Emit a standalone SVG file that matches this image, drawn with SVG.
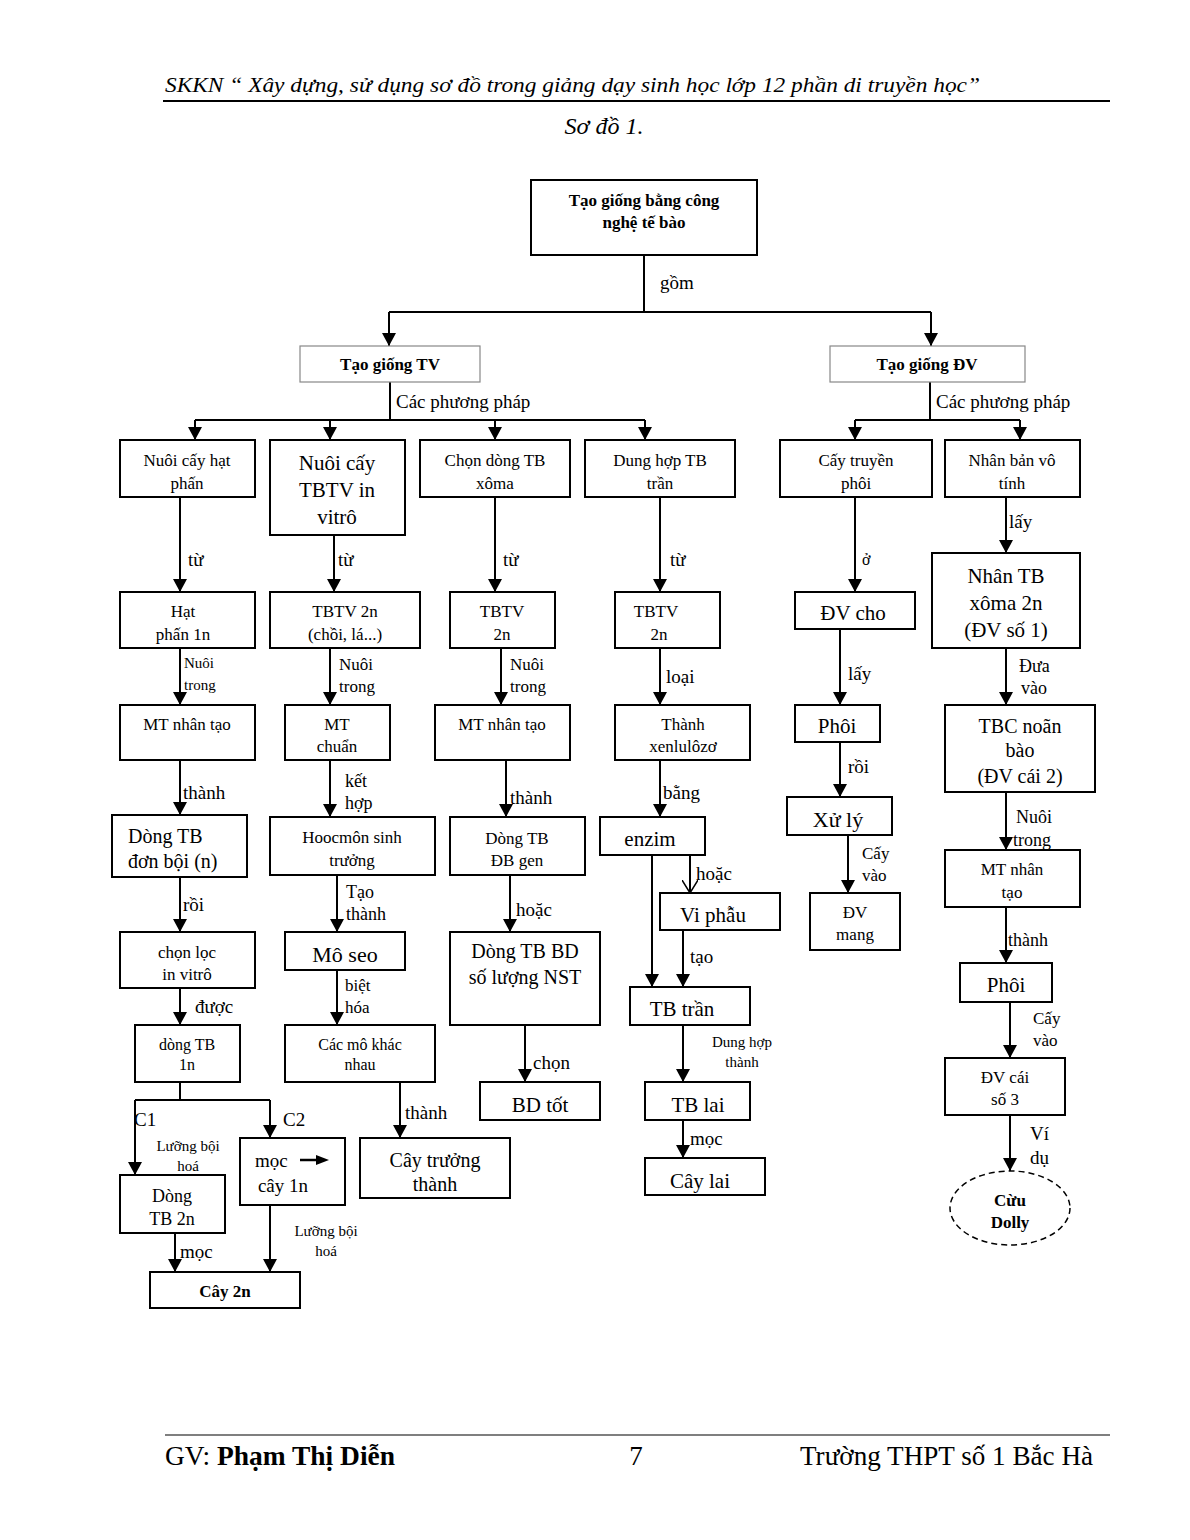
<svg xmlns="http://www.w3.org/2000/svg" width="1190" height="1540" viewBox="0 0 1190 1540">
<defs>
<marker id="a" markerWidth="13" markerHeight="14" refX="13" refY="7" orient="auto" markerUnits="userSpaceOnUse"><path d="M0,0 L13,7 L0,14 z" fill="#000"/></marker>
<marker id="o" markerWidth="14" markerHeight="16" refX="13" refY="8" orient="auto" markerUnits="userSpaceOnUse"><path d="M0,0 L13,8 L0,16" fill="none" stroke="#000" stroke-width="1.5"/></marker>
<style>
text{font-family:"Liberation Serif","Times New Roman",serif;fill:#000}
.b{fill:#fff;stroke:#000;stroke-width:2}
.g{fill:#fff;stroke:#888;stroke-width:1.2}
.c{text-anchor:middle}
.s15{font-size:15px}.s16{font-size:16px}.s17{font-size:17px}.s18{font-size:18px}.s19{font-size:19px}.s20{font-size:20px}.s21{font-size:21px}.s22{font-size:22px}
.bd{font-weight:bold}
.e path,.e line{stroke:#000;stroke-width:2;fill:none}
.ar{marker-end:url(#a)}
</style>
</defs>
<rect width="1190" height="1540" fill="#fff"/>
<g id="header">
<text x="165" y="92" font-size="22" font-style="italic" textLength="815" lengthAdjust="spacingAndGlyphs">SKKN “ Xây dựng, sử dụng sơ đồ trong giảng dạy sinh học lớp 12 phần di truyền học”</text>
<line x1="163" y1="101" x2="1110" y2="101" stroke="#000" stroke-width="2"/>
<text x="604" y="134" font-size="24" font-style="italic" class="c">Sơ đồ 1.</text>
</g>
<g id="connectors" class="e">
<path d="M644,255 V312 M389,312 H931"/>
<path class="ar" d="M389,312 V346"/><path class="ar" d="M931,312 V346"/>
<path d="M390,382 V420 M195,420 H645"/>
<path class="ar" d="M195,420 V440"/><path class="ar" d="M330,420 V440"/><path class="ar" d="M495,420 V440"/><path class="ar" d="M645,420 V440"/>
<path d="M930,382 V420 M855,420 H1020"/>
<path class="ar" d="M855,420 V440"/><path class="ar" d="M1020,420 V440"/>
<path class="ar" d="M180,497 V592"/><path class="ar" d="M334,535 V592"/><path class="ar" d="M495,497 V592"/><path class="ar" d="M660,497 V592"/><path class="ar" d="M855,497 V592"/><path class="ar" d="M1006,497 V553"/>
<path class="ar" d="M180,648 V705"/><path class="ar" d="M330,648 V705"/><path class="ar" d="M501,648 V705"/><path class="ar" d="M660,648 V705"/><path class="ar" d="M840,628 V705"/><path class="ar" d="M1006,648 V705"/>
<path class="ar" d="M180,760 V815"/><path class="ar" d="M330,760 V817"/><path class="ar" d="M506,760 V817"/><path class="ar" d="M660,760 V817"/><path class="ar" d="M840,742 V797"/><path class="ar" d="M848,835 V893"/><path class="ar" d="M1006,792 V850"/><path class="ar" d="M1006,907 V963"/><path class="ar" d="M1010,1002 V1058"/><path class="ar" d="M1010,1115 V1171"/>
<path class="ar" d="M180,877 V932"/><path class="ar" d="M337,875 V932"/><path class="ar" d="M510,875 V932"/>
<path class="ar" d="M652,855 V987"/><path d="M690,855 V893" marker-end="url(#o)"/><path class="ar" d="M683,930 V987"/>
<path class="ar" d="M180,988 V1025"/><path class="ar" d="M337,970 V1025"/><path class="ar" d="M525,1025 V1082"/><path class="ar" d="M683,1025 V1082"/>
<path d="M180,1082 V1100 M135,1100 H270"/><path class="ar" d="M135,1100 V1175"/><path class="ar" d="M270,1100 V1138"/>
<path class="ar" d="M270,1205 V1272"/><path class="ar" d="M175,1233 V1272"/><path class="ar" d="M400,1082 V1138"/><path class="ar" d="M683,1120 V1158"/>
</g>
<g id="labels">
<text x="660" y="289" class="s19">gồm</text>
<text x="396" y="408" class="s19">Các phương pháp</text>
<text x="936" y="408" class="s19">Các phương pháp</text>
<text x="188" y="566" class="s19">từ</text><text x="338" y="566" class="s19">từ</text><text x="503" y="566" class="s19">từ</text><text x="670" y="566" class="s19">từ</text>
<text x="862" y="565" class="s16">ở</text><text x="1009" y="528" class="s19">lấy</text>
<text x="184" y="668" class="s15">Nuôi</text><text x="184" y="690" class="s15">trong</text>
<text x="339" y="670" class="s17">Nuôi</text><text x="339" y="692" class="s17">trong</text>
<text x="510" y="670" class="s17">Nuôi</text><text x="510" y="692" class="s17">trong</text>
<text x="666" y="683" class="s19">loại</text><text x="848" y="680" class="s19">lấy</text>
<text x="1019" y="672" class="s18">Đưa</text><text x="1021" y="694" class="s18">vào</text>
<text x="183" y="799" class="s19">thành</text>
<text x="345" y="787" class="s18">kết</text><text x="345" y="809" class="s18">hợp</text>
<text x="510" y="804" class="s19">thành</text><text x="663" y="799" class="s19">bằng</text>
<text x="848" y="773" class="s19">rồi</text>
<text x="862" y="859" class="s17">Cấy</text><text x="862" y="881" class="s17">vào</text>
<text x="1016" y="823" class="s18">Nuôi</text><text x="1013" y="846" class="s18">trong</text>
<text x="1008" y="946" class="s18">thành</text>
<text x="1033" y="1024" class="s17">Cấy</text><text x="1033" y="1046" class="s17">vào</text>
<text x="1030" y="1140" class="s19">Ví</text><text x="1030" y="1164" class="s19">dụ</text>
<text x="183" y="911" class="s19">rồi</text>
<text x="346" y="898" class="s18">Tạo</text><text x="346" y="920" class="s18">thành</text>
<text x="516" y="916" class="s19">hoặc</text><text x="696" y="880" class="s19">hoặc</text>
<text x="690" y="963" class="s19">tạo</text>
<text x="195" y="1013" class="s19">được</text>
<text x="345" y="991" class="s17">biệt</text><text x="345" y="1013" class="s17">hóa</text>
<text x="533" y="1069" class="s19">chọn</text>
<text x="742" y="1047" class="s15 c">Dung hợp</text><text x="742" y="1067" class="s15 c">thành</text>
<text x="134" y="1126" class="s19">C1</text><text x="283" y="1126" class="s19">C2</text>
<text x="188" y="1151" class="s15 c">Lưỡng bội</text><text x="188" y="1171" class="s15 c">hoá</text>
<text x="326" y="1236" class="s15 c">Lưỡng bội</text><text x="326" y="1256" class="s15 c">hoá</text>
<text x="180" y="1258" class="s19">mọc</text>
<text x="405" y="1119" class="s19">thành</text>
<text x="690" y="1145" class="s19">mọc</text>
</g>
<g id="n-top"><rect class="b" x="531" y="180" width="226" height="75"/><text class="c s17 bd" x="644" y="206">Tạo giống bằng công</text><text class="c s17 bd" x="644" y="228">nghệ tế bào</text></g>
<g id="n-tv"><rect class="g" x="300" y="346" width="180" height="36"/><text class="c s17 bd" x="390" y="370">Tạo giống TV</text></g>
<g id="n-dv"><rect class="g" x="830" y="346" width="195" height="36"/><text class="c s17 bd" x="927" y="370">Tạo giống ĐV</text></g>
<g id="n-r1a"><rect class="b" x="120" y="440" width="135" height="57"/><text class="c s17" x="187" y="466">Nuôi cấy hạt</text><text class="c s17" x="187" y="489">phấn</text></g>
<g id="n-r1b"><rect class="b" x="270" y="440" width="135" height="95"/><text class="c s21" x="337" y="470">Nuôi cấy</text><text class="c s21" x="337" y="497">TBTV in</text><text class="c s21" x="337" y="524">vitrô</text></g>
<g id="n-r1c"><rect class="b" x="420" y="440" width="150" height="57"/><text class="c s17" x="495" y="466">Chọn dòng TB</text><text class="c s17" x="495" y="489">xôma</text></g>
<g id="n-r1d"><rect class="b" x="585" y="440" width="150" height="57"/><text class="c s17" x="660" y="466">Dung hợp TB</text><text class="c s17" x="660" y="489">trần</text></g>
<g id="n-r1e"><rect class="b" x="780" y="440" width="152" height="57"/><text class="c s17" x="856" y="466">Cấy truyền</text><text class="c s17" x="856" y="489">phôi</text></g>
<g id="n-r1f"><rect class="b" x="945" y="440" width="135" height="57"/><text class="c s17" x="1012" y="466">Nhân bản vô</text><text class="c s17" x="1012" y="489">tính</text></g>
<g id="n-r2a"><rect class="b" x="120" y="592" width="135" height="56"/><text class="c s17" x="183" y="617">Hạt</text><text class="c s17" x="183" y="640">phấn 1n</text></g>
<g id="n-r2b"><rect class="b" x="270" y="592" width="150" height="56"/><text class="c s17" x="345" y="617">TBTV 2n</text><text class="c s17" x="345" y="640">(chồi, lá...)</text></g>
<g id="n-r2c"><rect class="b" x="450" y="592" width="105" height="56"/><text class="c s17" x="502" y="617">TBTV</text><text class="c s17" x="502" y="640">2n</text></g>
<g id="n-r2d"><rect class="b" x="615" y="592" width="105" height="56"/><text class="c s17" x="656" y="617">TBTV</text><text class="c s17" x="659" y="640">2n</text></g>
<g id="n-r2e"><rect class="b" x="795" y="592" width="120" height="37"/><text class="c s21" x="853" y="620">ĐV cho</text></g>
<g id="n-r2f"><rect class="b" x="932" y="553" width="148" height="95"/><text class="c s21" x="1006" y="583">Nhân TB</text><text class="c s21" x="1006" y="610">xôma 2n</text><text class="c s21" x="1006" y="637">(ĐV số 1)</text></g>
<g id="n-r3a"><rect class="b" x="120" y="705" width="135" height="55"/><text class="c s17" x="187" y="730">MT nhân tạo</text></g>
<g id="n-r3b"><rect class="b" x="285" y="705" width="105" height="55"/><text class="c s17" x="337" y="730">MT</text><text class="c s17" x="337" y="752">chuẩn</text></g>
<g id="n-r3c"><rect class="b" x="435" y="705" width="135" height="55"/><text class="c s17" x="502" y="730">MT nhân tạo</text></g>
<g id="n-r3d"><rect class="b" x="615" y="705" width="135" height="55"/><text class="c s17" x="683" y="730">Thành</text><text class="c s17" x="683" y="752">xenlulôzơ</text></g>
<g id="n-r3e"><rect class="b" x="795" y="705" width="85" height="37"/><text class="c s21" x="837" y="733">Phôi</text></g>
<g id="n-r3f"><rect class="b" x="945" y="705" width="150" height="87"/><text class="c s20" x="1020" y="733">TBC noãn</text><text class="c s20" x="1020" y="757">bào</text><text class="c s20" x="1020" y="783">(ĐV cái 2)</text></g>
<g id="n-r4a"><rect class="b" x="112" y="815" width="135" height="62"/><text class="s20" x="128" y="843">Dòng TB</text><text class="s20" x="128" y="868">đơn bội (n)</text></g>
<g id="n-r4b"><rect class="b" x="270" y="817" width="165" height="58"/><text class="c s17" x="352" y="843">Hoocmôn sinh</text><text class="c s17" x="352" y="866">trưởng</text></g>
<g id="n-r4c"><rect class="b" x="450" y="817" width="135" height="58"/><text class="c s17" x="517" y="844">Dòng TB</text><text class="c s17" x="517" y="866">ĐB gen</text></g>
<g id="n-r4d"><rect class="b" x="600" y="817" width="105" height="38"/><text class="c s21" x="650" y="846">enzim</text></g>
<g id="n-r4e"><rect class="b" x="787" y="797" width="105" height="38"/><text class="c s22" x="838" y="827">Xử lý</text></g>
<g id="n-r4f"><rect class="b" x="810" y="893" width="90" height="57"/><text class="c s17" x="855" y="918">ĐV</text><text class="c s17" x="855" y="940">mang</text></g>
<g id="n-r4g"><rect class="b" x="945" y="850" width="135" height="57"/><text class="c s17" x="1012" y="875">MT nhân</text><text class="c s17" x="1012" y="898">tạo</text></g>
<g id="n-r4h"><rect class="b" x="960" y="963" width="92" height="39"/><text class="c s21" x="1006" y="992">Phôi</text></g>
<g id="n-r4i"><rect class="b" x="945" y="1058" width="120" height="57"/><text class="c s17" x="1005" y="1083">ĐV cái</text><text class="c s17" x="1005" y="1105">số 3</text></g>
<g id="n-dolly"><ellipse cx="1010" cy="1208" rx="60" ry="37" fill="#fff" stroke="#000" stroke-width="1.5" stroke-dasharray="6,4"/><text class="c s17 bd" x="1010" y="1206">Cừu</text><text class="c s17 bd" x="1010" y="1228">Dolly</text></g>
<g id="n-r5a"><rect class="b" x="120" y="932" width="135" height="56"/><text class="c s17" x="187" y="958">chọn lọc</text><text class="c s17" x="187" y="980">in vitrô</text></g>
<g id="n-r5b"><rect class="b" x="285" y="932" width="120" height="38"/><text class="c s22" x="345" y="962">Mô seo</text></g>
<g id="n-r5c"><rect class="b" x="450" y="932" width="150" height="93"/><text class="c s20" x="525" y="958">Dòng TB BD</text><text class="c s20" x="525" y="984">số lượng NST</text></g>
<g id="n-r5d"><rect class="b" x="660" y="893" width="120" height="37"/><text class="c s21" x="713" y="922">Vi phẫu</text></g>
<g id="n-r5e"><rect class="b" x="630" y="987" width="120" height="38"/><text class="c s21" x="682" y="1016">TB trần</text></g>
<g id="n-r6a"><rect class="b" x="135" y="1025" width="105" height="57"/><text class="c s16" x="187" y="1050">dòng TB</text><text class="c s16" x="187" y="1070">1n</text></g>
<g id="n-r6b"><rect class="b" x="285" y="1025" width="150" height="57"/><text class="c s16" x="360" y="1050">Các mô khác</text><text class="c s16" x="360" y="1070">nhau</text></g>
<g id="n-r6c"><rect class="b" x="480" y="1082" width="120" height="38"/><text class="c s21" x="540" y="1112">BD tốt</text></g>
<g id="n-r6d"><rect class="b" x="645" y="1082" width="105" height="38"/><text class="c s21" x="698" y="1112">TB lai</text></g>
<g id="n-r7a"><rect class="b" x="120" y="1175" width="105" height="58"/><text class="c s18" x="172" y="1202">Dòng</text><text class="c s18" x="172" y="1225">TB 2n</text></g>
<g id="n-r7b"><rect class="b" x="240" y="1138" width="105" height="67"/><text class="s19" x="255" y="1167">mọc</text><line x1="300" y1="1160" x2="318" y2="1160" stroke="#000" stroke-width="2.5"/><path d="M316,1155 L329,1160 L316,1165 z" fill="#000"/><text class="c s19" x="283" y="1192">cây 1n</text></g>
<g id="n-r7c"><rect class="b" x="150" y="1272" width="150" height="36"/><text class="c s17 bd" x="225" y="1297">Cây 2n</text></g>
<g id="n-r7d"><rect class="b" x="360" y="1138" width="150" height="60"/><text class="c s20" x="435" y="1167">Cây trưởng</text><text class="c s20" x="435" y="1191">thành</text></g>
<g id="n-r7e"><rect class="b" x="645" y="1158" width="120" height="37"/><text class="c s21" x="700" y="1188">Cây lai</text></g>
<g id="footer">
<line x1="165" y1="1435" x2="1110" y2="1435" stroke="#000" stroke-width="1.2"/>
<text x="165" y="1465" font-size="27" textLength="230" lengthAdjust="spacingAndGlyphs">GV: <tspan font-weight="bold">Phạm Thị Diễn</tspan></text>
<text x="636" y="1465" font-size="27" class="c">7</text>
<text x="800" y="1465" font-size="27" textLength="293" lengthAdjust="spacingAndGlyphs">Trường THPT số 1 Bắc Hà</text>
</g>
</svg>
